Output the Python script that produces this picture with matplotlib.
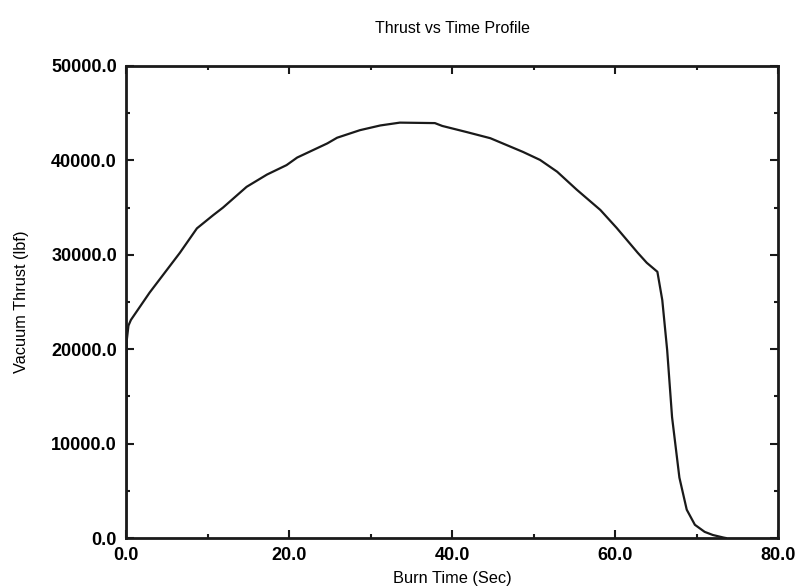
import matplotlib
matplotlib.use('Agg')
import matplotlib.pyplot as plt
from matplotlib.ticker import MultipleLocator, FormatStrFormatter

# burn time (s) and vacuum thrust (lbf)
burn_time = [0.0, 0.1, 0.3, 0.6, 2.9, 6.6, 8.7, 10.7, 11.9, 14.8, 17.3, 19.7,
             21.0, 24.7, 25.9, 28.7, 31.2, 33.6, 37.9, 38.8, 41.8, 44.7, 48.7,
             50.8, 52.9, 55.3, 58.2, 60.2, 62.8, 63.9, 65.2, 65.8, 66.4, 67.0,
             67.9, 68.8, 69.8, 71.0, 72.0, 73.3, 73.6]
thrust = [0, 21000, 22500, 23100, 26000, 30200, 32800, 34200, 35000, 37200,
          38500, 39500, 40300, 41800, 42400, 43200, 43700, 44000, 43950, 43650,
          43000, 42350, 40900, 40050, 38800, 36900, 34750, 32850, 30200, 29150,
          28200, 25200, 19900, 12800, 6400, 3000, 1400, 650, 320, 50, 0]

plt.rcParams['font.family'] = ['Liberation Sans', 'DejaVu Sans']

fig = plt.figure(figsize=(7.96, 5.86), dpi=100)
ax = fig.add_axes([0.1583, 0.0819, 0.8191, 0.8055])

ax.plot(burn_time, thrust, color='#1a1a1a', lw=1.6)

ax.set_xlim(0, 80)
ax.set_ylim(0, 50000)
ax.xaxis.set_major_locator(MultipleLocator(20))
ax.xaxis.set_minor_locator(MultipleLocator(10))
ax.yaxis.set_major_locator(MultipleLocator(10000))
ax.yaxis.set_minor_locator(MultipleLocator(5000))
ax.xaxis.set_major_formatter(FormatStrFormatter('%.1f'))
ax.yaxis.set_major_formatter(FormatStrFormatter('%.1f'))

ax.tick_params(which='both', direction='in', top=True, right=True, width=1.5,
               color='#1a1a1a', labelsize=13, pad=6.5)
ax.tick_params(which='major', length=6)
ax.tick_params(which='minor', length=3)
for lab in ax.get_xticklabels() + ax.get_yticklabels():
    lab.set_fontweight('bold')
for sp in ax.spines.values():
    sp.set_linewidth(2)
    sp.set_color('#1a1a1a')

ax.set_title('Thrust vs Time Profile', fontsize=11.5, pad=24)
ax.set_xlabel('Burn Time (Sec)', fontsize=11.8, labelpad=5)
ax.set_ylabel('Vacuum Thrust (lbf)', fontsize=11.8, labelpad=16)

plt.savefig('out.png', dpi=100)
